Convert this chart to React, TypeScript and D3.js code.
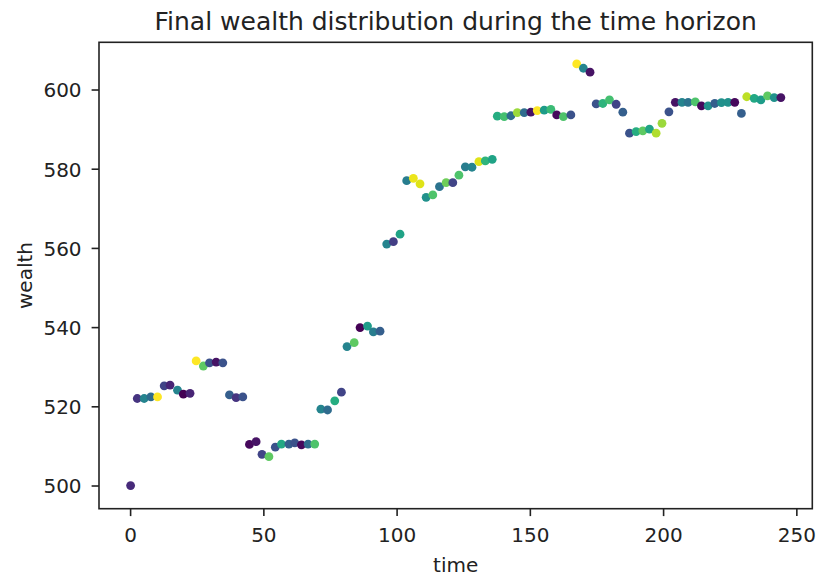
import React from "react";
import * as d3 from "d3";

const times = [0, 2.5, 5.1, 7.6, 10.1, 12.6, 14.8, 17.6, 19.8, 22.3, 24.6, 27.3, 29.6, 32.1, 34.6, 37.1, 39.6, 42.1, 44.6, 47.1, 49.3, 51.9, 54.3, 56.6, 59.4, 61.6, 64.1, 66.6, 69.1, 71.4, 73.9, 76.6, 79.1, 81.2, 83.9, 86.1, 88.9, 91.1, 93.6, 96.1, 98.6, 101.1, 103.6, 106.1, 108.6, 110.9, 113.4, 115.9, 118.4, 120.9, 123.2, 125.6, 128.1, 130.7, 133.1, 135.7, 137.6, 140.2, 142.7, 145.1, 147.7, 150.2, 152.6, 155.2, 157.7, 159.9, 162.4, 165.2, 167.4, 169.9, 172.4, 174.7, 177.2, 179.7, 182.2, 184.7, 187.2, 189.7, 192.2, 194.7, 197.2, 199.4, 202.0, 204.4, 206.9, 209.2, 211.9, 214.2, 216.7, 219.2, 221.7, 224.2, 226.7, 229.2, 231.2, 234.0, 236.5, 239.0, 241.5, 244.0];

const wealth = [500.1, 522.1, 522.1, 522.5, 522.5, 525.3, 525.5, 524.2, 523.2, 523.4, 531.6, 530.3, 531.1, 531.3, 531.1, 523.0, 522.3, 522.5, 510.5, 511.2, 508.0, 507.4, 509.8, 510.6, 510.6, 510.9, 510.4, 510.6, 510.6, 519.4, 519.2, 521.5, 523.7, 535.2, 536.2, 540.0, 540.4, 538.9, 539.1, 561.1, 561.7, 563.6, 577.1, 577.7, 576.3, 572.9, 573.5, 575.6, 576.6, 576.6, 578.5, 580.6, 580.5, 581.9, 582.1, 582.5, 593.4, 593.3, 593.5, 594.3, 594.3, 594.4, 594.8, 594.9, 595.1, 593.7, 593.3, 593.7, 606.6, 605.5, 604.5, 596.5, 596.6, 597.5, 596.4, 594.4, 589.1, 589.5, 589.7, 590.1, 589.1, 591.6, 594.5, 596.9, 596.9, 596.9, 597.0, 596.0, 596.0, 596.6, 596.8, 596.9, 596.9, 594.1, 598.3, 597.9, 597.5, 598.5, 598.1, 598.1];

const colorValues = [0.12, 0.15, 0.45, 0.35, 1.0, 0.2, 0.1, 0.45, 0.0, 0.1, 1.0, 0.75, 0.25, 0.05, 0.25, 0.3, 0.15, 0.25, 0.02, 0.05, 0.2, 0.75, 0.25, 0.6, 0.3, 0.25, 0.02, 0.35, 0.72, 0.45, 0.35, 0.62, 0.2, 0.45, 0.75, 0.0, 0.55, 0.42, 0.3, 0.45, 0.18, 0.58, 0.42, 0.97, 0.95, 0.5, 0.72, 0.38, 0.78, 0.2, 0.72, 0.42, 0.45, 0.95, 0.65, 0.58, 0.62, 0.7, 0.35, 0.85, 0.35, 0.05, 1.0, 0.55, 0.68, 0.02, 0.72, 0.25, 1.0, 0.45, 0.05, 0.25, 0.65, 0.7, 0.2, 0.3, 0.25, 0.62, 0.75, 0.58, 0.88, 0.85, 0.25, 0.05, 0.45, 0.38, 0.72, 0.02, 0.5, 0.3, 0.5, 0.5, 0.02, 0.3, 0.9, 0.6, 0.55, 0.75, 0.5, 0.05];

const xTicks = [0, 50, 100, 150, 200, 250];
const yTicks = [500, 520, 540, 560, 580, 600];

const titleText = "Final wealth distribution during the time horizon";
const xLabel = "time";
const yLabel = "wealth";

const W = 818;
const H = 580;
const plot = { left: 99, right: 812.3, top: 42.3, bottom: 508.7 };
const xDomain = [-11.86, 255.8];
const yDomain = [494.27, 612.05];
const FONT = "'DejaVu Sans', sans-serif";

export default function App() {
  const x = d3.scaleLinear().domain(xDomain).range([plot.left, plot.right]);
  const y = d3.scaleLinear().domain(yDomain).range([plot.bottom, plot.top]);
  const pts = times.map((t, i) => ({ t, w: wealth[i], c: colorValues[i] }));
  const tickLen = 7.4;
  const tickFs = 20;
  return (
    <svg
      width={W}
      height={H}
      style={{ position: "absolute", left: 0, top: 0, background: "#fff" }}
      fontFamily={FONT}
    >
      <rect x={0} y={0} width={W} height={H} fill="#fff" />
      {pts.map((p, i) => (
        <circle
          key={i}
          cx={x(p.t)}
          cy={y(p.w)}
          r={4.4}
          fill={d3.interpolateViridis(p.c)}
        />
      ))}
      <rect
        x={plot.left}
        y={plot.top}
        width={plot.right - plot.left}
        height={plot.bottom - plot.top}
        fill="none"
        stroke="#222"
        strokeWidth={1.6}
      />
      {xTicks.map((t) => (
        <g key={t} transform={`translate(${x(t)},${plot.bottom})`}>
          <line y1={0} y2={tickLen} stroke="#222" strokeWidth={1.6} />
          <text y={33} textAnchor="middle" fontSize={tickFs} fill="#222">
            {t}
          </text>
        </g>
      ))}
      {yTicks.map((t) => (
        <g key={t} transform={`translate(${plot.left},${y(t)})`}>
          <line x1={0} x2={-tickLen} stroke="#222" strokeWidth={1.6} />
          <text x={-17.4} y={7.3} textAnchor="end" fontSize={tickFs} fill="#222">
            {t}
          </text>
        </g>
      ))}
      <text
        x={(plot.left + plot.right) / 2}
        y={30}
        textAnchor="middle"
        fontSize={25}
        fill="#222"
      >
        {titleText}
      </text>
      <text
        x={(plot.left + plot.right) / 2}
        y={571.5}
        textAnchor="middle"
        fontSize={tickFs}
        fill="#222"
      >
        {xLabel}
      </text>
      <text
        transform={`translate(32,${(plot.top + plot.bottom) / 2}) rotate(-90)`}
        textAnchor="middle"
        fontSize={tickFs}
        fill="#222"
      >
        {yLabel}
      </text>
    </svg>
  );
}
